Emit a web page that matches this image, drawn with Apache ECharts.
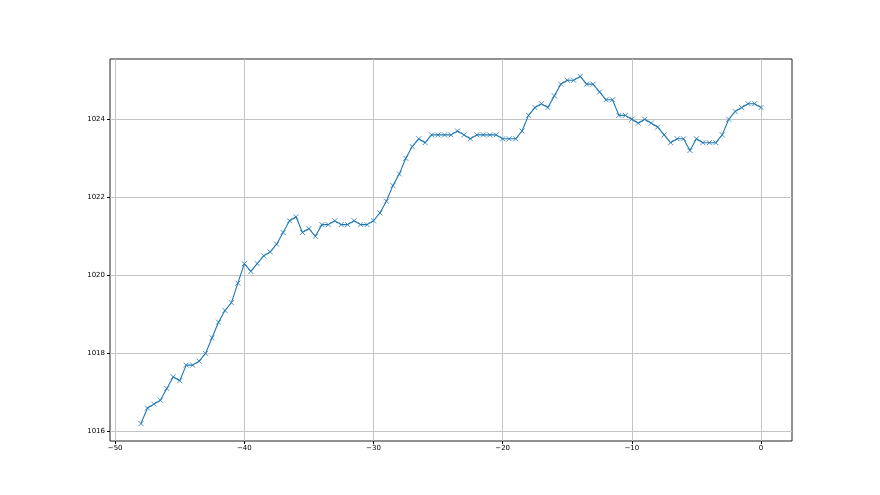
<!DOCTYPE html>
<html>
<head>
<meta charset="utf-8">
<script src="https://cdn.jsdelivr.net/npm/echarts@6/dist/echarts.min.js"></script>
<style>html,body{margin:0;padding:0;background:#fff}#c{width:880px;height:495px}</style>
</head>
<body>
<div id="c"></div>
<script>
const xValues = [-48,-47.5,-47,-46.5,-46,-45.5,-45,-44.5,-44,-43.5,-43,-42.5,-42,-41.5,-41,-40.5,-40,-39.5,-39,-38.5,-38,-37.5,-37,-36.5,-36,-35.5,-35,-34.5,-34,-33.5,-33,-32.5,-32,-31.5,-31,-30.5,-30,-29.5,-29,-28.5,-28,-27.5,-27,-26.5,-26,-25.5,-25,-24.5,-24,-23.5,-23,-22.5,-22,-21.5,-21,-20.5,-20,-19.5,-19,-18.5,-18,-17.5,-17,-16.5,-16,-15.5,-15,-14.5,-14,-13.5,-13,-12.5,-12,-11.5,-11,-10.5,-10,-9.5,-9,-8.5,-8,-7.5,-7,-6.5,-6,-5.5,-5,-4.5,-4,-3.5,-3,-2.5,-2,-1.5,-1,-0.5,0];
const pressure = [1016.2,1016.6,1016.7,1016.8,1017.1,1017.4,1017.3,1017.7,1017.7,1017.8,1018.0,1018.4,1018.8,1019.1,1019.3,1019.8,1020.3,1020.1,1020.3,1020.5,1020.6,1020.8,1021.1,1021.4,1021.5,1021.1,1021.2,1021.0,1021.3,1021.3,1021.4,1021.3,1021.3,1021.4,1021.3,1021.3,1021.4,1021.6,1021.9,1022.3,1022.6,1023.0,1023.3,1023.5,1023.4,1023.6,1023.6,1023.6,1023.6,1023.7,1023.6,1023.5,1023.6,1023.6,1023.6,1023.6,1023.5,1023.5,1023.5,1023.7,1024.1,1024.3,1024.4,1024.3,1024.6,1024.9,1025.0,1025.0,1025.1,1024.9,1024.9,1024.7,1024.5,1024.5,1024.1,1024.1,1024.0,1023.9,1024.0,1023.9,1023.8,1023.6,1023.4,1023.5,1023.5,1023.2,1023.5,1023.4,1023.4,1023.4,1023.6,1024.0,1024.2,1024.3,1024.4,1024.4,1024.3];
const xTicks = [-50,-40,-30,-20,-10,0];
const yTicks = [1016,1018,1020,1022,1024];

const data = xValues.map((x, i) => [x, pressure[i]]);
const fmt = v => String(v).replace('-', '\u2212');
const chart = echarts.init(document.getElementById('c'), null, {renderer: 'canvas'});
const axisCommon = {
  type: 'value',
  axisLine: {show: false, onZero: false},
  axisTick: {show: true, inside: false, length: 3, lineStyle: {color: '#000', width: 1}},
  splitLine: {show: true, lineStyle: {color: '#c4c4c4', width: 1}},
};
chart.setOption({
  animation: false,
  backgroundColor: '#fff',
  grid: {left: 110, right: 88, top: 59, bottom: 54, show: true, borderColor: '#222', borderWidth: 1, backgroundColor: 'transparent'},
  xAxis: Object.assign({}, axisCommon, {
    position: 'bottom',
    min: -50.4, max: 2.4,
    axisTick: Object.assign({}, axisCommon.axisTick, {customValues: xTicks}),
    axisLabel: {customValues: xTicks, formatter: fmt, color: '#000', fontSize: 7, fontFamily: 'DejaVu Sans', margin: 4},
    splitLine: Object.assign({}, axisCommon.splitLine, {customValues: xTicks})
  }),
  yAxis: Object.assign({}, axisCommon, {
    position: 'left',
    min: 1015.755, max: 1025.545,
    axisTick: Object.assign({}, axisCommon.axisTick, {customValues: yTicks}),
    axisLabel: {customValues: yTicks, formatter: fmt, color: '#000', fontSize: 7, fontFamily: 'DejaVu Sans', margin: 5},
    splitLine: Object.assign({}, axisCommon.splitLine, {customValues: yTicks})
  }),
  series: [{
    type: 'line',
    data: data,
    lineStyle: {color: '#1f77b4', width: 1.1},
    symbol: 'path://M0,0L10,10M10,0L0,10',
    symbolSize: 5,
    showSymbol: true,
    itemStyle: {color: 'none', borderColor: '#1f77b4', borderWidth: 0.8},
    z: 3
  }]
});
</script>
</body>
</html>
